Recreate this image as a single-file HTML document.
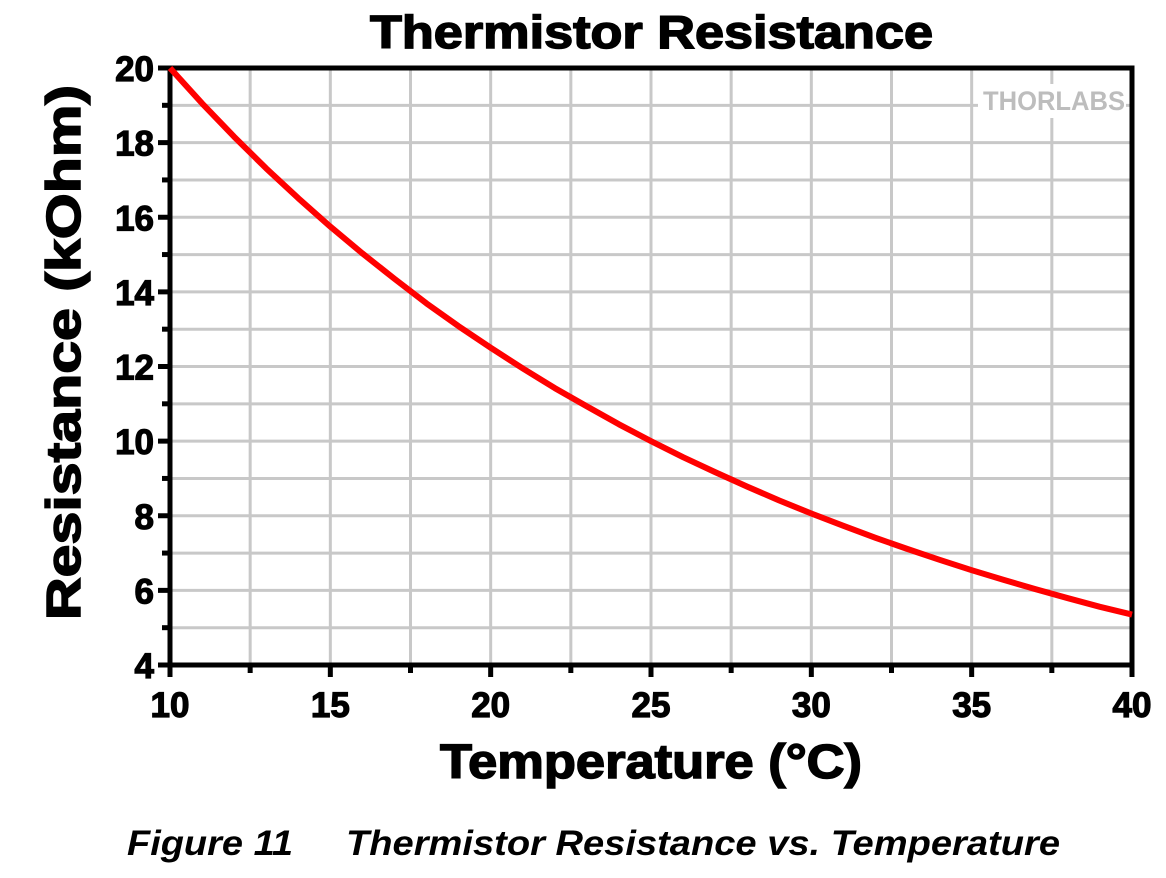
<!DOCTYPE html>
<html><head><meta charset="utf-8"><style>
html,body{margin:0;padding:0;background:#fff;}
svg{display:block;font-family:"Liberation Sans",sans-serif;}
</style></head><body>
<svg id="chart" width="1166" height="878" viewBox="0 0 1166 878">
<text x="370" y="48" textLength="563" lengthAdjust="spacingAndGlyphs" font-size="46" font-weight="bold" stroke="#000" stroke-width="1.5">Thermistor Resistance</text>
<g id="grid"></g>
<g>
<rect x="978" y="84" width="148" height="34" fill="#fff"/>
<text x="983" y="110" textLength="142" lengthAdjust="spacingAndGlyphs" font-size="27" font-weight="bold" fill="#bdbdbd">THORLABS</text>
</g>
<g id="axes"></g>
<path id="curve" fill="none" stroke="#ff0000" stroke-width="6" stroke-linejoin="round"/>
<text transform="translate(80,620) rotate(-90)" textLength="535" lengthAdjust="spacingAndGlyphs" font-size="48" font-weight="bold" stroke="#000" stroke-width="1.5">Resistance (kOhm)</text>
<text x="440" y="778" textLength="422" lengthAdjust="spacingAndGlyphs" font-size="48" font-weight="bold" stroke="#000" stroke-width="1.5">Temperature (°C)</text>
<text x="127" y="855" textLength="166" lengthAdjust="spacingAndGlyphs" font-size="35" font-weight="bold" font-style="italic">Figure 11</text>
<text x="346" y="855" textLength="714" lengthAdjust="spacingAndGlyphs" font-size="35" font-weight="bold" font-style="italic">Thermistor Resistance vs. Temperature</text>
</svg>
<script>
const temps = [10,11,12,13,14,15,16,17,18,19,20,21,22,23,24,25,26,27,28,29,30,31,32,33,34,35,36,37,38,39,40];
const resistance = [20.0,19.05,18.16,17.31,16.51,15.75,15.03,14.35,13.69,13.08,12.5,11.95,11.42,10.93,10.45,10.0,9.57,9.17,8.78,8.41,8.06,7.73,7.41,7.11,6.82,6.54,6.28,6.03,5.79,5.56,5.35];
const xTickLabels = [10,15,20,25,30,35,40];
const yTickLabels = [4,6,8,10,12,14,16,18,20];

const X0=170,X1=1132,Y0=665,Y1=68;
const xMin=10,xMax=40,yMin=4,yMax=20;
const sx=v=>X0+(v-xMin)/(xMax-xMin)*(X1-X0);
const sy=v=>Y0-(v-yMin)/(yMax-yMin)*(Y0-Y1);
const NS='http://www.w3.org/2000/svg';
function mk(tag,attrs,parent){const e=document.createElementNS(NS,tag);for(const k in attrs)e.setAttribute(k,attrs[k]);parent.appendChild(e);return e;}
const grid=document.getElementById('grid'),axes=document.getElementById('axes');
for(let v=xMin+2.5;v<xMax;v+=2.5){
  const l=mk('line',{x1:sx(v),x2:sx(v),y1:Y1,y2:Y0,stroke:'#c8c8c8','stroke-width':3},grid);
  
  
}
for(let v=yMin+1;v<yMax;v+=1){
  const l=mk('line',{x1:X0,x2:X1,y1:sy(v),y2:sy(v),stroke:'#c8c8c8','stroke-width':3},grid);
  
  
}
const frame=mk('rect',{x:X0,y:Y1,width:X1-X0,height:Y0-Y1,fill:'none',stroke:'#000','stroke-width':5},axes);


for(let v=xMin;v<=xMax;v+=2.5){
  const major=Number.isInteger(v/5);
  const t=mk('line',{x1:sx(v),x2:sx(v),y1:Y0,y2:Y0+(major?12:8),stroke:'#000','stroke-width':5},axes);
  
  
}
for(let v=yMin;v<=yMax;v+=1){
  const t=mk('line',{x1:X0-(v%2===0?12:8),x2:X0,y1:sy(v),y2:sy(v),stroke:'#000','stroke-width':5},axes);
  
  
}
xTickLabels.forEach(v=>{
  const t=mk('text',{x:sx(v),y:717,'text-anchor':'middle','font-size':35,'font-weight':'bold',stroke:'#000','stroke-width':1.2},axes);
  t.textContent=v;
  
  
});
yTickLabels.forEach(v=>{
  const t=mk('text',{x:X0-16,y:sy(v)+13,'text-anchor':'end','font-size':35,'font-weight':'bold',stroke:'#000','stroke-width':1.2},axes);
  t.textContent=v;
  
  
});
let d='';
temps.forEach((t,i)=>{d+=(i?'L':'M')+sx(t).toFixed(1)+','+sy(resistance[i]).toFixed(1);});
document.getElementById('curve').setAttribute('d',d);
</script>
</body></html>
